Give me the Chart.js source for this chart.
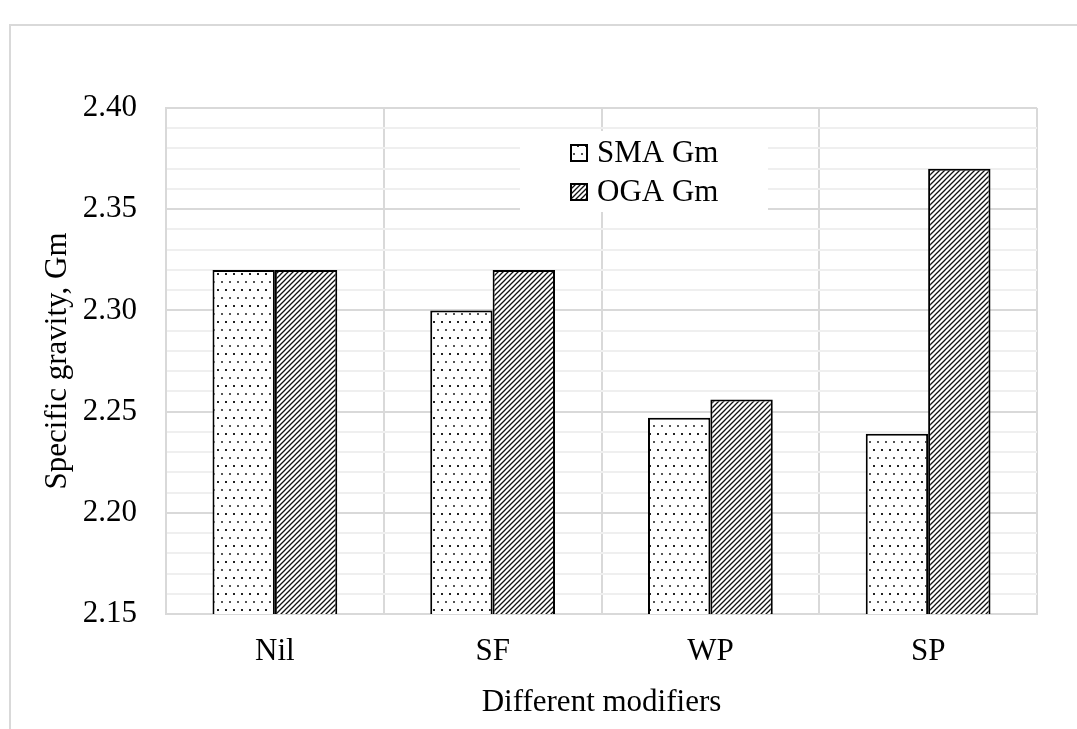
<!DOCTYPE html>
<html>
<head>
<meta charset="utf-8">
<script src="https://cdn.jsdelivr.net/npm/chart.js@4.4.1/dist/chart.umd.min.js"></script>
<style>
    html, body { margin: 0; padding: 0; background: #fff; }
    #frame {
        position: absolute; left: 9px; top: 24px; width: 1100px; height: 760px;
        border-left: 2px solid #d9d9d9; border-top: 2px solid #d9d9d9;
    }
    #wrap { position: absolute; left: 0; top: 0; width: 1077px; height: 729px; }
</style>
</head>
<body>
<div id="frame"></div>
<div id="wrap"><canvas id="statsGm" width="1077" height="729"></canvas></div>
<script>
const modifiers = ["Nil", "SF", "WP", "SP"];
const smaGm = [2.32, 2.30, 2.247, 2.239];
const ogaGm = [2.32, 2.32, 2.256, 2.37];
const seriesNames = ["SMA Gm", "OGA Gm"];
const yMin = 2.15;
const yMax = 2.40;

const serif = "'Liberation Serif', 'Times New Roman', serif";

// sparse staggered dots, rows 8px apart
function dotPattern() {
    let c = document.createElement('canvas');
    c.width = 8; c.height = 16;
    let g = c.getContext('2d');
    g.fillStyle = '#fff';
    g.fillRect(0, 0, 8, 16);
    g.fillStyle = '#222';
    g.fillRect(1, 1, 2, 2);
    g.fillStyle = '#555';
    g.fillRect(5, 9, 2, 2);
    return g.createPattern(c, 'repeat');
}

// dense upward diagonal hatch
function hatchPattern() {
    let c = document.createElement('canvas');
    c.width = 5; c.height = 5;
    let g = c.getContext('2d');
    g.fillStyle = '#fff';
    g.fillRect(0, 0, 5, 5);
    g.strokeStyle = '#111';
    g.lineWidth = 1.3;
    g.beginPath();
    g.moveTo(-1, 6); g.lineTo(6, -1);
    g.moveTo(-3, 3); g.lineTo(3, -3);
    g.moveTo(2, 8); g.lineTo(8, 2);
    g.stroke();
    return g.createPattern(c, 'repeat');
}

const boxLegend = {
    id: 'boxLegend',
    afterDraw(chart) {
        const ctx = chart.ctx;
        const a = chart.chartArea;
        const x0 = a.left + 354, y0 = a.top + 23;
        ctx.save();
        ctx.fillStyle = '#fff';
        ctx.fillRect(x0, y0, 248, 81);
        ctx.font = '31px ' + serif;
        ctx.textBaseline = 'middle';
        chart.data.datasets.forEach((ds, i) => {
            const cy = y0 + 22 + i * 39;
            ctx.fillStyle = ds.backgroundColor;
            ctx.fillRect(x0 + 51, cy - 8, 16, 16);
            ctx.strokeStyle = '#000';
            ctx.lineWidth = 2;
            ctx.strokeRect(x0 + 51, cy - 8, 16, 16);
            ctx.fillStyle = '#000';
            ctx.fillText(ds.label, x0 + 77, cy + 1);
        });
        ctx.restore();
    }
};

let ctx = document.querySelector('#statsGm').getContext('2d');

let chartGm = new Chart(ctx, {
    type: 'bar',
    data: {
        labels: modifiers,
        datasets: [{
            label: seriesNames[0],
            data: smaGm,
            backgroundColor: dotPattern(),
            borderColor: '#000',
            borderWidth: 2,
        }, {
            label: seriesNames[1],
            data: ogaGm,
            backgroundColor: hatchPattern(),
            borderColor: '#000',
            borderWidth: 2,
        }]
    },
    options: {
        responsive: false,
        animation: false,
        layout: { padding: { top: 108, right: 40, left: 0, bottom: 0 } },
        datasets: {
            bar: { barPercentage: 1, categoryPercentage: 0.573 }
        },
        plugins: {
            legend: { display: false },
            tooltip: { enabled: false }
        },
        scales: {
            x: {
                grid: { color: '#d9d9d9', lineWidth: 2, drawTicks: false },
                border: { color: '#d9d9d9', width: 2 },
                ticks: { color: '#000', font: { family: serif, size: 31 }, padding: 19 },
                title: {
                    display: true,
                    text: 'Different modifiers',
                    color: '#000',
                    font: { family: serif, size: 31 },
                    padding: { top: 0, bottom: 8 }
                },
                afterFit: (scale) => { scale.height = 115; }
            },
            y: {
                min: yMin,
                max: yMax,
                grid: {
                    drawTicks: false,
                    lineWidth: 2,
                    color: (c) => Math.round(c.tick.value * 100) % 5 === 0 ? '#d9d9d9' : '#efefef'
                },
                border: { color: '#d9d9d9', width: 2 },
                ticks: {
                    stepSize: 0.01,
                    maxTicksLimit: 40,
                    autoSkip: false,
                    padding: 29,
                    color: '#000',
                    font: { family: serif, size: 31 },
                    callback: (v) => Math.round(v * 100) % 5 === 0 ? v.toFixed(2) : ''
                },
                title: {
                    display: true,
                    text: 'Specific gravity, Gm',
                    color: '#000',
                    font: { family: serif, size: 31 },
                    padding: { top: 39, bottom: 0 }
                },
                afterFit: (scale) => { scale.width = 166; }
            }
        }
    },
    plugins: [boxLegend]
});
</script>
</body>
</html>
